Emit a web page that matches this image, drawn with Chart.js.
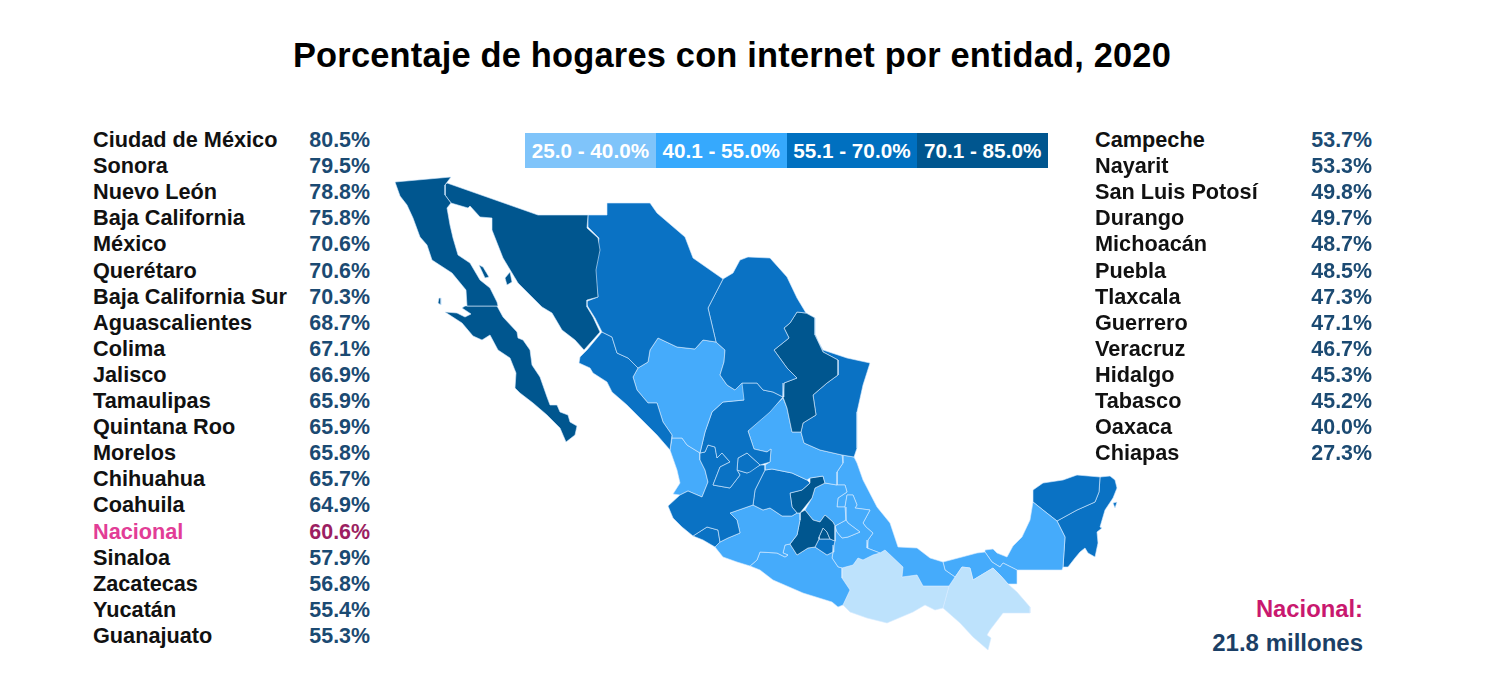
<!DOCTYPE html>
<html lang="es">
<head>
<meta charset="utf-8">
<title>Porcentaje de hogares con internet por entidad, 2020</title>
<script src="https://cdn.jsdelivr.net/npm/chart.js@4"></script>
<style>
    html, body { margin: 0; padding: 0; width: 1486px; height: 683px; background: #fff; overflow: hidden; }
    body { position: relative; font-family: "Liberation Sans", Arial, sans-serif; font-weight: bold; }
    #title { position: absolute; left: 0; width: 1464px; top: 36px; text-align: center; font-size: 34.4px; color: #000; letter-spacing: 0.2px; white-space: nowrap; }
    #map-wrap { position: absolute; left: 380px; top: 170px; width: 750px; height: 490px; }
    .row { position: absolute; font-size: 21.7px; line-height: 26px; height: 26px; white-space: nowrap; color: #111; }
    .val { position: absolute; font-size: 21.4px; line-height: 26px; height: 26px; text-align: right; width: 80px; color: #1b4a72; }
    .nat-name { color: #e23d96; }
    .nat-val { color: #9c1f62; }
    #legend { position: absolute; left: 525px; top: 133px; display: flex; height: 35px; }
    #legend div { width: 130.75px; line-height: 36px; text-align: center; color: #fff; font-size: 20.7px; white-space: nowrap; }
    #nat-label { position: absolute; right: 123px; top: 595px; font-size: 23.8px; color: #c9186f; }
    #nat-total { position: absolute; right: 123px; top: 629px; font-size: 24px; color: #1b3f66; }
</style>
</head>
<body>
<div id="title">Porcentaje de hogares con internet por entidad, 2020</div>
<div id="legend"></div>
<div id="map-wrap"><canvas id="map"></canvas></div>
<div id="nat-label">Nacional:</div>
<div id="nat-total">21.8 millones</div>
<script>
// Tables, as printed
const leftNames = ['Ciudad de México', 'Sonora', 'Nuevo León', 'Baja California', 'México', 'Querétaro', 'Baja California Sur', 'Aguascalientes', 'Colima', 'Jalisco', 'Tamaulipas', 'Quintana Roo', 'Morelos', 'Chihuahua', 'Coahuila', 'Nacional', 'Sinaloa', 'Zacatecas', 'Yucatán', 'Guanajuato'];
const leftValues = [80.5, 79.5, 78.8, 75.8, 70.6, 70.6, 70.3, 68.7, 67.1, 66.9, 65.9, 65.9, 65.8, 65.7, 64.9, 60.6, 57.9, 56.8, 55.4, 55.3];
const rightNames = ['Campeche', 'Nayarit', 'San Luis Potosí', 'Durango', 'Michoacán', 'Puebla', 'Tlaxcala', 'Guerrero', 'Veracruz', 'Hidalgo', 'Tabasco', 'Oaxaca', 'Chiapas'];
const rightValues = [53.7, 53.3, 49.8, 49.7, 48.7, 48.5, 47.3, 47.1, 46.7, 45.3, 45.2, 40.0, 27.3];

// Legend bins
const binLabels = ['25.0 - 40.0%', '40.1 - 55.0%', '55.1 - 70.0%', '70.1 - 85.0%'];
const binTops = [40.0, 55.0, 70.0, 85.0];
const legendColors = ['#7fc4fa', '#36a9fd', '#0070c0', '#00568f'];
const mapColors = ['#bde2fc', '#45abfb', '#0a72c4', '#00568f'];

const bajaCalifornia = [[395,182],[451,177],[445,185],[445,195],[451,203],[447,208],[450,225],[453,238],[458,255],[470,263],[480,280],[490,288],[497,302],[498,306],[467,306],[466,290],[452,273],[432,260],[427,245],[420,237],[413,218],[407,205],[400,196]];
const bajaCaliforniaSur = [[465,306],[497,306],[503,317],[517,332],[518,338],[523,340],[530,350],[532,365],[540,377],[547,397],[550,405],[557,405],[560,412],[568,415],[570,422],[577,426],[575,435],[566,442],[560,428],[547,415],[533,403],[520,393],[515,388],[516,373],[510,358],[498,350],[490,335],[482,340],[473,336],[462,323],[445,312],[457,313],[465,317],[471,314],[462,308]];
const sonora = [[447,183],[538,215],[588,215],[587,228],[598,238],[600,250],[596,270],[598,297],[587,300],[587,307],[593,317],[600,332],[584,350],[575,340],[562,330],[552,313],[542,307],[532,297],[518,283],[503,258],[492,230],[492,218],[480,217],[470,206],[468,208],[451,203],[445,195],[445,185]];
const chihuahua = [[588,215],[607,215],[607,203],[650,203],[657,213],[685,237],[693,258],[723,279],[708,308],[716,342],[703,340],[695,349],[677,347],[658,338],[650,350],[648,362],[638,368],[628,358],[617,353],[612,337],[602,332],[595,318],[585,302],[598,297],[595,273],[599,238],[588,227]];
const coahuila = [[723,279],[733,273],[740,260],[748,257],[770,258],[787,277],[797,298],[806,313],[797,312],[790,323],[784,328],[789,338],[774,350],[787,368],[797,378],[784,383],[783,397],[773,392],[763,390],[757,383],[742,383],[735,390],[727,385],[720,375],[724,362],[725,350],[716,342],[708,308]];
const nuevoLeon = [[797,312],[806,313],[815,318],[815,335],[823,352],[838,360],[838,375],[827,383],[813,395],[816,415],[803,423],[801,432],[792,432],[787,408],[783,397],[784,383],[797,378],[787,368],[774,350],[789,338],[784,328],[790,323]];
const tamaulipas = [[806,313],[815,318],[815,335],[823,350],[847,358],[870,363],[863,385],[857,412],[857,448],[854,457],[842,455],[820,450],[804,443],[801,432],[803,423],[816,415],[813,395],[827,383],[838,375],[838,360],[823,352]];
const sinaloa = [[602,332],[612,337],[617,353],[628,358],[638,368],[633,377],[637,390],[648,403],[657,403],[663,422],[672,435],[670,450],[657,435],[640,418],[627,405],[612,392],[607,382],[593,373],[590,368],[579,363],[580,357],[587,350]];
const durango = [[658,338],[677,347],[695,349],[703,340],[716,342],[725,350],[724,362],[720,375],[727,385],[735,390],[742,383],[744,400],[723,402],[712,412],[705,432],[700,453],[687,445],[682,438],[672,438],[672,435],[663,422],[657,403],[648,403],[637,390],[633,377],[638,368],[648,362],[650,350]];
const zacatecas = [[712,412],[723,402],[744,400],[735,390],[742,383],[757,383],[763,390],[773,392],[783,397],[770,412],[748,431],[754,449],[767,452],[771,449],[770,462],[760,465],[758,463],[747,453],[738,458],[737,470],[740,475],[730,488],[713,485],[720,467],[730,462],[722,453],[717,458],[715,447],[708,445],[705,452],[700,453],[705,432]];
const aguascalientes = [[738,458],[747,453],[758,463],[760,465],[750,472],[747,473],[737,470]];
const jalisco = [[668,506],[680,495],[688,491],[702,497],[708,482],[705,470],[700,460],[700,453],[705,452],[708,445],[715,447],[717,458],[722,453],[730,462],[720,467],[713,485],[730,488],[740,475],[737,470],[747,473],[760,465],[765,465],[765,470],[755,490],[753,505],[730,513],[737,520],[740,533],[728,538],[720,542],[718,530],[707,527],[693,536],[682,527],[673,518]];
const colima = [[693,536],[707,527],[718,530],[720,542],[715,547],[703,540]];
const nayarit = [[670,450],[672,438],[682,438],[687,445],[700,453],[700,460],[705,470],[708,482],[702,497],[688,491],[680,495],[673,494],[680,483],[677,470]];
const sanLuisPotosi = [[783,398],[787,408],[792,432],[801,432],[804,443],[820,450],[842,455],[843,463],[837,472],[837,485],[825,483],[823,476],[810,478],[807,480],[792,473],[772,469],[765,470],[765,465],[770,462],[771,449],[767,452],[754,449],[748,431]];
const guanajuato = [[765,470],[772,469],[792,473],[807,480],[810,483],[802,490],[790,493],[792,507],[797,513],[792,516],[782,516],[770,508],[763,510],[753,505],[755,490]];
const queretaro = [[810,478],[823,476],[825,483],[815,488],[812,498],[800,513],[797,513],[792,507],[790,493],[802,490],[810,483]];
const michoacan = [[730,513],[753,505],[763,510],[770,508],[782,516],[792,516],[797,513],[800,513],[800,520],[797,535],[790,544],[785,545],[783,553],[788,555],[785,557],[777,553],[760,552],[757,560],[750,566],[737,562],[723,557],[715,547],[720,542],[728,538],[740,533],[737,520]];
const mexicoState = [[805,510],[813,520],[820,522],[825,515],[833,522],[835,526],[835,541],[830,539],[827,532],[823,528],[819,537],[819,539],[815,547],[808,548],[797,555],[790,544],[797,535],[800,520],[800,513]];
const ciudadDeMexico = [[823,528],[827,532],[830,539],[819,539],[819,537]];
const morelos = [[819,539],[830,539],[835,541],[834,545],[833,552],[827,555],[815,547]];
const guerrero = [[750,566],[757,560],[760,552],[777,553],[785,557],[788,555],[783,553],[785,545],[790,544],[797,555],[808,548],[815,547],[827,555],[833,552],[832,558],[838,567],[842,568],[842,578],[850,590],[843,605],[838,607],[832,602],[803,593],[773,580],[760,570]];
const hidalgo = [[825,483],[837,485],[845,485],[847,492],[838,498],[837,507],[845,507],[846,520],[835,526],[833,522],[825,515],[820,522],[813,520],[805,510],[812,498],[815,488]];
const tlaxcala = [[835,526],[846,520],[848,523],[860,532],[848,537],[842,538],[837,532]];
const puebla = [[845,507],[847,495],[853,495],[857,505],[855,508],[870,510],[863,523],[866,527],[873,533],[868,540],[867,548],[880,553],[873,555],[863,560],[858,558],[853,565],[842,568],[838,567],[832,558],[833,552],[834,545],[835,541],[835,526],[837,532],[842,538],[848,537],[860,532],[848,523],[846,520]];
const veracruz = [[854,457],[857,463],[863,480],[877,507],[890,523],[898,547],[917,548],[930,558],[943,562],[945,570],[955,577],[949,586],[923,586],[917,575],[902,577],[903,567],[885,550],[880,553],[867,548],[868,540],[873,533],[866,527],[863,523],[870,510],[855,508],[857,505],[853,495],[847,495],[845,507],[837,507],[838,498],[847,492],[845,485],[837,485],[837,472],[843,463],[842,455]];
const oaxaca = [[842,568],[853,565],[858,558],[863,560],[873,555],[880,553],[885,550],[903,567],[902,577],[917,575],[923,586],[949,586],[943,608],[935,610],[925,605],[913,612],[887,623],[867,618],[850,612],[843,605],[850,590],[842,578]];
const chiapas = [[949,586],[962,567],[970,568],[973,580],[993,568],[1000,575],[1008,584],[1017,592],[1030,607],[1030,613],[1003,613],[990,630],[987,635],[991,638],[988,650],[973,637],[960,623],[943,608]];
const tabasco = [[943,562],[945,570],[955,577],[949,586],[962,567],[970,568],[973,580],[993,568],[1000,575],[1008,584],[1017,584],[1017,570],[1003,563],[1000,567],[992,562],[985,552],[977,553],[962,557]];
const campeche = [[985,550],[993,549],[997,553],[1007,557],[1013,546],[1022,537],[1030,520],[1033,502],[1043,510],[1057,521],[1065,537],[1063,567],[1062,570],[1017,570],[1003,563],[1000,567],[992,562],[985,552]];
const yucatan = [[1033,502],[1033,490],[1043,483],[1063,480],[1077,475],[1100,477],[1099,492],[1095,502],[1077,510],[1057,521],[1043,510]];
const quintanaRoo = [[1100,477],[1110,476],[1115,480],[1117,488],[1113,498],[1105,510],[1100,527],[1102,528],[1097,532],[1098,543],[1095,557],[1088,553],[1085,548],[1080,552],[1075,558],[1068,567],[1063,567],[1065,537],[1057,521],[1077,510],[1095,502],[1099,492]];
// Islands
const islaTiburon = [[505,278],[510,272],[512,282],[507,285]];
const islaAngel = [[479,265],[483,267],[489,277],[485,278]];
const islaCedros = [[439,298],[441,298],[441,305],[438,303]];
const islaCozumel = [[1113,503],[1117,502],[1115,508]];

const mapShapes = [
    ['Baja California', bajaCalifornia], ['Baja California', islaAngel], ['Baja California', islaCedros],
    ['Baja California Sur', bajaCaliforniaSur], ['Sonora', sonora], ['Sonora', islaTiburon],
    ['Chihuahua', chihuahua], ['Coahuila', coahuila], ['Nuevo León', nuevoLeon], ['Tamaulipas', tamaulipas],
    ['Sinaloa', sinaloa], ['Durango', durango], ['Zacatecas', zacatecas], ['Aguascalientes', aguascalientes],
    ['Jalisco', jalisco], ['Colima', colima], ['Nayarit', nayarit], ['San Luis Potosí', sanLuisPotosi],
    ['Guanajuato', guanajuato], ['Querétaro', queretaro], ['Michoacán', michoacan], ['México', mexicoState],
    ['Ciudad de México', ciudadDeMexico], ['Morelos', morelos], ['Guerrero', guerrero], ['Hidalgo', hidalgo],
    ['Tlaxcala', tlaxcala], ['Puebla', puebla], ['Veracruz', veracruz], ['Oaxaca', oaxaca], ['Chiapas', chiapas],
    ['Tabasco', tabasco], ['Campeche', campeche], ['Yucatán', yucatan], ['Quintana Roo', quintanaRoo],
    ['Quintana Roo', islaCozumel]
];

// Look up a state's value and pick its legend bin
function stateColor(name) {
    let i = leftNames.indexOf(name);
    const value = i >= 0 ? leftValues[i] : rightValues[rightNames.indexOf(name)];
    const bin = binTops.findIndex(function(top) { return value <= top; });
    return mapColors[bin];
}

function addRows(names, values, nameX, valueRight) {
    names.forEach(function(name, i) {
        const top = 127 + i * 26.1;
        const isNational = name === 'Nacional';
        const label = document.createElement('div');
        label.className = 'row' + (isNational ? ' nat-name' : '');
        label.style.left = nameX + 'px';
        label.style.top = top + 'px';
        label.textContent = name;
        const val = document.createElement('div');
        val.className = 'val' + (isNational ? ' nat-val' : '');
        val.style.left = (valueRight - 80) + 'px';
        val.style.top = top + 'px';
        val.textContent = values[i].toFixed(1) + '%';
        document.body.appendChild(label);
        document.body.appendChild(val);
    });
}

addRows(leftNames, leftValues, 93, 370);
addRows(rightNames, rightValues, 1095, 1372);

binLabels.forEach(function(label, i) {
    const cell = document.createElement('div');
    cell.style.background = legendColors[i];
    cell.textContent = label;
    document.getElementById('legend').appendChild(cell);
});

// Every state is a closed filled line on hidden linear axes
const datasets = mapShapes.map(function(shape) {
    const points = shape[1].concat([shape[1][0]]).map(function(p) { return { x: p[0], y: p[1] }; });
    return {
        label: shape[0],
        data: points,
        showLine: true,
        fill: 'shape',
        tension: 0,
        pointRadius: 0,
        borderWidth: 1,
        borderColor: 'rgba(215, 235, 255, 0.6)',
        backgroundColor: stateColor(shape[0])
    };
});

new Chart(document.getElementById('map'), {
    type: 'scatter',
    data: { datasets: datasets },
    options: {
        responsive: true,
        maintainAspectRatio: false,
        animation: false,
        layout: { padding: 0 },
        plugins: { legend: { display: false }, tooltip: { enabled: false } },
        scales: {
            x: { type: 'linear', display: false, min: 380, max: 1130 },
            y: { type: 'linear', display: false, min: 170, max: 660, reverse: true }
        }
    }
});
</script>
</body>
</html>
